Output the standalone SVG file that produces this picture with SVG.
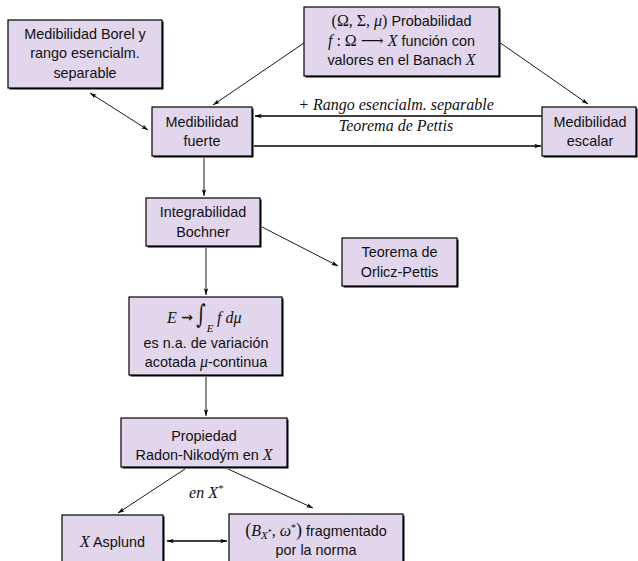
<svg xmlns="http://www.w3.org/2000/svg" width="638" height="561" viewBox="0 0 638 561">
<style>
.bx{fill:#e1d6eb;stroke:#000;stroke-width:1.2}
.sh{fill:#000}
.t{font-family:"Liberation Sans","DejaVu Sans",sans-serif;font-size:14.4px;fill:#111;text-anchor:middle}
.m{font-family:"Liberation Serif","DejaVu Serif",serif;font-style:italic;font-size:16px}
.r{font-family:"Liberation Serif","DejaVu Serif",serif;font-style:normal;font-size:16px}
.lb{font-family:"Liberation Serif","DejaVu Serif",serif;font-style:italic;font-size:16px;fill:#111;text-anchor:middle}
.c{fill:none;stroke:#000;stroke-width:0.9}
.ct{fill:none;stroke:#000;stroke-width:1.6}
</style>
<defs>
<marker id="ah" viewBox="0 0 8 6" refX="8" refY="3" markerWidth="7" markerHeight="5" orient="auto-start-reverse" markerUnits="userSpaceOnUse">
<path d="M0,0.4 L8,3 L0,5.6 L1.8,3 z" fill="#000"/>
</marker>
</defs>
<g id="connectors">
<line class="c" x1="304" y1="43" x2="213" y2="105" marker-end="url(#ah)"/>
<line class="c" x1="499" y1="42" x2="588" y2="104" marker-end="url(#ah)"/>
<line class="ct" x1="542" y1="116" x2="255" y2="116" marker-end="url(#ah)"/>
<line class="ct" x1="254" y1="146" x2="541" y2="146" marker-end="url(#ah)"/>
<line class="c" x1="90" y1="93" x2="148" y2="130" marker-start="url(#ah)" marker-end="url(#ah)"/>
<line class="c" x1="204" y1="158" x2="204" y2="196" marker-end="url(#ah)"/>
<line class="c" x1="262" y1="227" x2="338" y2="266" marker-end="url(#ah)"/>
<line class="c" x1="206" y1="248" x2="206" y2="295" marker-end="url(#ah)"/>
<line class="c" x1="206" y1="377" x2="206" y2="416" marker-end="url(#ah)"/>
<line class="c" x1="185" y1="469" x2="118" y2="513" marker-end="url(#ah)"/>
<line class="c" x1="228" y1="469" x2="313" y2="508" marker-end="url(#ah)"/>
<line class="ct" x1="167" y1="541" x2="227" y2="541" marker-start="url(#ah)" marker-end="url(#ah)"/>
<text class="lb" x="396" y="110">+ Rango esencialm. separable</text>
<text class="lb" x="396" y="131">Teorema de Pettis</text>
<text class="lb" x="206" y="498">en X<tspan dy="-6" style="font-size:10px">*</tspan></text>
</g>
<g id="n-borel">
<rect class="sh" x="9.5" y="21.5" width="154" height="68"/>
<rect class="bx" x="8" y="20" width="154" height="68"/>
<text class="t" x="85" y="39">Medibilidad Borel y</text>
<text class="t" x="85" y="58">rango esencialm.</text>
<text class="t" x="85" y="78">separable</text>
</g>
<g id="n-top">
<rect class="sh" x="305.5" y="8.5" width="195" height="69"/>
<rect class="bx" x="304" y="7" width="195" height="69"/>
<text class="t" x="401.5" y="26"><tspan class="r">(Ω, Σ, </tspan><tspan class="m">μ</tspan><tspan class="r">)</tspan> Probabilidad</text>
<text class="t" x="401.5" y="46"><tspan class="m">f</tspan><tspan class="r"> : Ω ⟶ </tspan><tspan class="m">X</tspan> función con</text>
<text class="t" x="401.5" y="65">valores en el Banach <tspan class="m">X</tspan></text>
</g>
<g id="n-fuerte">
<rect class="sh" x="153.5" y="108.5" width="100" height="49"/>
<rect class="bx" x="152" y="107" width="100" height="49"/>
<text class="t" x="202" y="127">Medibilidad</text>
<text class="t" x="202" y="146">fuerte</text>
</g>
<g id="n-escalar">
<rect class="sh" x="543.5" y="108.5" width="94" height="49"/>
<rect class="bx" x="542" y="107" width="94" height="49"/>
<text class="t" x="590" y="127">Medibilidad</text>
<text class="t" x="590" y="146">escalar</text>
</g>
<g id="n-bochner">
<rect class="sh" x="147.5" y="199.5" width="114" height="48"/>
<rect class="bx" x="146" y="198" width="114" height="48"/>
<text class="t" x="203" y="217">Integrabilidad</text>
<text class="t" x="203" y="237">Bochner</text>
</g>
<g id="n-orlicz">
<rect class="sh" x="343.5" y="239.5" width="115" height="48"/>
<rect class="bx" x="342" y="238" width="115" height="48"/>
<text class="t" x="399.5" y="257">Teorema de</text>
<text class="t" x="399.5" y="277">Orlicz-Pettis</text>
</g>
<g id="n-integral">
<rect class="sh" x="130.5" y="298.5" width="153" height="78"/>
<rect class="bx" x="129" y="297" width="153" height="78"/>
<text class="m" x="172" y="323" text-anchor="middle" fill="#111">E</text>
<text x="187" y="322" text-anchor="middle" fill="#111" style="font-family:'DejaVu Sans',sans-serif;font-size:14px">⇝</text>
<text x="0" y="0" text-anchor="middle" fill="#111" transform="translate(201,323) scale(1,1.45)" style="font-family:'DejaVu Serif',serif;font-style:italic;font-size:18px">∫</text>
<text x="210" y="332" text-anchor="middle" fill="#111" style="font-family:'Liberation Serif',serif;font-style:italic;font-size:11px">E</text>
<text class="m" x="217" y="323" fill="#111">f dμ</text>
<text class="t" x="206" y="348">es n.a. de variación</text>
<text class="t" x="206" y="367">acotada <tspan class="m">μ</tspan>-continua</text>
</g>
<g id="n-rn">
<rect class="sh" x="122.5" y="419.5" width="166" height="49"/>
<rect class="bx" x="121" y="418" width="166" height="49"/>
<text class="t" x="204" y="441">Propiedad</text>
<text class="t" x="204" y="460">Radon-Nikodým en <tspan class="m">X</tspan></text>
</g>
<g id="n-asplund">
<rect class="sh" x="63.5" y="516.5" width="101" height="60"/>
<rect class="bx" x="62" y="515" width="101" height="60"/>
<text class="t" x="112.5" y="547"><tspan class="m">X</tspan> Asplund</text>
</g>
<g id="n-frag">
<rect class="sh" x="230.5" y="515.5" width="174" height="60"/>
<rect class="bx" x="229" y="514" width="174" height="60"/>
<text class="t" x="316" y="536"><tspan class="r" style="font-size:18px">(</tspan><tspan class="m">B</tspan><tspan class="m" style="font-size:11px" dy="3">X</tspan><tspan class="r" style="font-size:8px" dy="-4">*</tspan><tspan class="r" dy="1">, </tspan><tspan class="m">ω</tspan><tspan class="r" style="font-size:10px" dy="-5">*</tspan><tspan class="r" style="font-size:18px" dy="5">)</tspan> fragmentado</text>
<text class="t" x="316" y="555">por la norma</text>
</g>
</svg>
